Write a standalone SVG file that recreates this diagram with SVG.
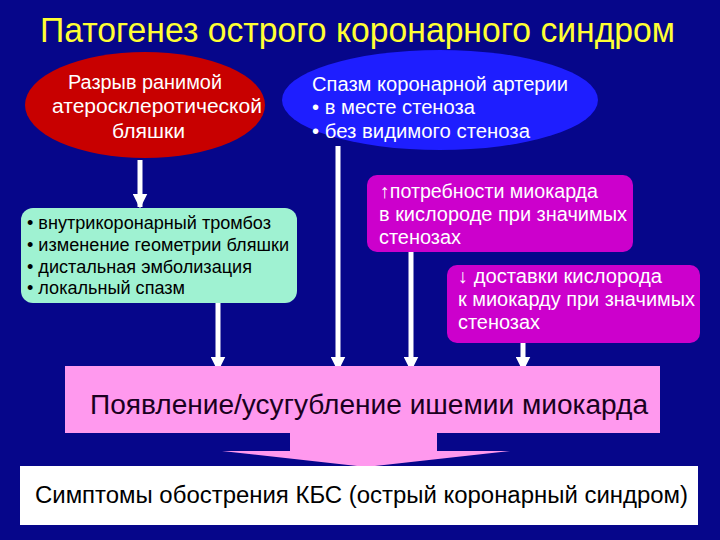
<svg xmlns="http://www.w3.org/2000/svg" width="720" height="540" viewBox="0 0 720 540">
<defs>
<style>
text{font-family:"Liberation Sans",Arial,sans-serif}
.w{fill:#ffffff}
.k{fill:#000000}
.ln{stroke:#ffffff;stroke-width:5;fill:none}
</style>
<marker id="ah" viewBox="0 0 10 10" refX="9" refY="5" markerWidth="3" markerHeight="3" orient="auto" markerUnits="strokeWidth">
<path d="M0,0 L10,5 L0,10 z" fill="#ffffff"/>
</marker>
</defs>
<rect x="0" y="0" width="720" height="540" fill="#06068a"/>
<text x="40" y="42" font-size="35" fill="#ffff33" textLength="635" lengthAdjust="spacingAndGlyphs">Патогенез острого коронарного синдром</text>

<g id="connectors">
<line class="ln" x1="140" y1="160" x2="140" y2="207" marker-end="url(#ah)"/>
<line class="ln" x1="218" y1="303" x2="218" y2="370" marker-end="url(#ah)"/>
<line class="ln" x1="338" y1="146" x2="338" y2="370" marker-end="url(#ah)"/>
<line class="ln" x1="411" y1="252" x2="411" y2="370" marker-end="url(#ah)"/>
<line class="ln" x1="523" y1="343" x2="523" y2="370" marker-end="url(#ah)"/>
</g>

<g id="rupture">
<ellipse cx="145" cy="105" rx="120" ry="53" fill="#c80000"/>
<text class="w" font-size="20" x="68" y="89" textLength="154" lengthAdjust="spacingAndGlyphs">Разрыв ранимой</text>
<text class="w" font-size="20" x="52" y="113" textLength="210" lengthAdjust="spacingAndGlyphs">атеросклеротической</text>
<text class="w" font-size="20" x="112" y="138" textLength="73" lengthAdjust="spacingAndGlyphs">бляшки</text>
</g>

<g id="spasm">
<ellipse cx="440" cy="100" rx="158" ry="50" fill="#1e1eff"/>
<text class="w" font-size="20" x="312" y="91" textLength="256" lengthAdjust="spacingAndGlyphs">Спазм коронарной артерии</text>
<text class="w" font-size="20" x="312" y="114" textLength="163" lengthAdjust="spacingAndGlyphs">• в месте стеноза</text>
<text class="w" font-size="20" x="312" y="138" textLength="218" lengthAdjust="spacingAndGlyphs">• без видимого стеноза</text>
</g>

<g id="effects">
<rect x="21" y="208" width="276" height="95" rx="12" fill="#9ff2d2"/>
<text class="k" font-size="17.5" x="27" y="229" textLength="244" lengthAdjust="spacingAndGlyphs">• внутрикоронарный тромбоз</text>
<text class="k" font-size="17.5" x="27" y="251" textLength="262" lengthAdjust="spacingAndGlyphs">• изменение геометрии бляшки</text>
<text class="k" font-size="17.5" x="27" y="273" textLength="225" lengthAdjust="spacingAndGlyphs">• дистальная эмболизация</text>
<text class="k" font-size="17.5" x="27" y="294" textLength="158" lengthAdjust="spacingAndGlyphs">• локальный спазм</text>
</g>

<g id="demand">
<rect x="367" y="175" width="266" height="77" rx="10" fill="#cc00cc"/>
<text class="w" font-size="19.5" x="380" y="198" textLength="218" lengthAdjust="spacingAndGlyphs">↑потребности миокарда</text>
<text class="w" font-size="19.5" x="379" y="221" textLength="248" lengthAdjust="spacingAndGlyphs">в кислороде при значимых</text>
<text class="w" font-size="19.5" x="379" y="244" textLength="82" lengthAdjust="spacingAndGlyphs">стенозах</text>
</g>

<g id="supply">
<rect x="447" y="265" width="253" height="78" rx="10" fill="#cc00cc"/>
<text class="w" font-size="19.5" x="458" y="283" textLength="204" lengthAdjust="spacingAndGlyphs">↓ доставки кислорода</text>
<text class="w" font-size="19.5" x="458" y="306" textLength="237" lengthAdjust="spacingAndGlyphs">к миокарду при значимых</text>
<text class="w" font-size="19.5" x="458" y="329" textLength="82" lengthAdjust="spacingAndGlyphs">стенозах</text>
</g>

<g id="ischemia">
<path d="M65,366 H660 V433 H437 V451 H510 L366,467 L222,451 H290 V433 H65 Z" fill="#ff99ee"/>
<text font-size="27" x="90" y="414" fill="#1a0020" textLength="558" lengthAdjust="spacingAndGlyphs">Появление/усугубление ишемии миокарда</text>
</g>

<g id="symptoms">
<rect x="20" y="466" width="678" height="59" fill="#ffffff"/>
<text class="k" font-size="23" x="35" y="503" textLength="653" lengthAdjust="spacingAndGlyphs">Симптомы обострения КБС (острый коронарный синдром)</text>
</g>
</svg>
